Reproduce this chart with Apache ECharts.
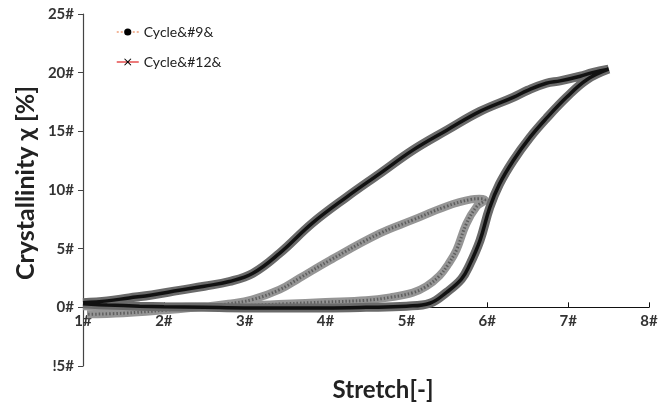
<!DOCTYPE html>
<html>
<head>
<meta charset="utf-8">
<script src="https://cdn.jsdelivr.net/npm/echarts@6/dist/echarts.min.js"></script>
<style>html,body{margin:0;padding:0;background:#fff}#c{width:661px;height:402px}</style>
</head>
<body>
<div id="c"></div>
<script>
// Cycle 9: loading then unloading [stretch, crystallinity %]
const cycle9 = [
  [1.0,0.1],[1.5,0.05],[2.0,0.05],[2.5,0.1],[3.0,0.15],[3.5,0.3],[4.0,0.45],[4.5,0.6],[4.8,0.85],
  [5.08,1.25],[5.25,1.8],[5.41,2.7],[5.52,3.7],[5.62,4.9],[5.74,7.1],[5.87,8.6],[5.97,9.15],
  [5.9,9.25],[5.8,9.2],[5.49,8.6],[5.08,7.45],[4.67,6.3],[4.05,4.0],[3.68,2.5],[3.43,1.5],
  [3.09,0.65],[2.8,0.3],[2.5,0.05],[2.0,-0.25],[1.5,-0.5],[1.05,-0.6]
];
// Cycle 12: loading then unloading
const cycle12 = [
  [1.0,0.3],[1.3,0.2],[1.7,0.1],[2.0,0.05],[2.5,0.0],[3.0,-0.05],[3.5,-0.05],[4.0,-0.05],[4.5,0.0],
  [5.0,0.1],[5.29,0.35],[5.5,1.3],[5.68,2.4],[5.78,3.6],[5.91,5.7],[6.03,8.5],[6.15,10.5],
  [6.32,12.5],[6.53,14.5],[6.73,16.1],[6.98,17.9],[7.23,19.4],[7.5,20.3],
  [7.3,20.0],[7.15,19.7],[6.9,19.3],[6.73,19.1],[6.5,18.5],[6.32,17.9],[5.91,16.7],[5.5,15.1],
  [5.08,13.4],[4.67,11.4],[4.26,9.4],[3.84,7.2],[3.43,4.6],[3.1,2.9],[2.81,2.2],[2.5,1.8],
  [2.19,1.45],[1.85,1.05],[1.57,0.8],[1.3,0.55],[1.0,0.4]
];
const xTickLabels = {1:'1#',2:'2#',3:'3#',4:'4#',5:'5#',6:'6#',7:'7#',8:'8#'};
const yTickLabels = {'-5':'!5#','0':'0#','5':'5#','10':'10#','15':'15#','20':'20#','25':'25#'};
const seriesNames = ['Cycle&#9&','Cycle&#12&'];
const xTitle = 'Stretch[-]';
const yTitle = 'Crystallinity χ [%]';

const FONT = 'Lato';
const xMark = 'path://M0,1 L1,0 L5,4 L9,0 L10,1 L6,5 L10,9 L9,10 L5,6 L1,10 L0,9 L4,5 Z';

const chart = echarts.init(document.getElementById('c'), null, {renderer:'canvas'});
chart.setOption({
  animation:false,
  backgroundColor:'#fff',
  grid:{left:83, right:12, top:14, bottom:36},
  legend:{
    orient:'vertical', left:111, top:20, itemWidth:22, itemHeight:9, itemGap:16,
    textStyle:{fontFamily:FONT, fontSize:14, color:'#222'},
    data:[
      {name:seriesNames[0], itemStyle:{color:'#000', borderWidth:0}, lineStyle:{color:'#f0a07a', width:1.5, type:[2,2]}},
      {name:seriesNames[1], itemStyle:{color:'#000', borderWidth:0}, lineStyle:{color:'#e02020', width:1.2, type:'solid'}}
    ]
  },
  graphic:[
    {type:'text', x:383, y:390, style:{text:xTitle, align:'center', verticalAlign:'middle', font:'bold 24px Lato', fill:'#222'}},
    {type:'text', x:26, y:183, rotation:Math.PI/2, style:{text:yTitle, align:'center', verticalAlign:'middle', font:'bold 25px Lato', fill:'#222'}}
  ],
  xAxis:{
    type:'value', min:1, max:8, interval:1, position:'bottom',
    axisLine:{onZero:false, lineStyle:{color:'#111', width:1.2}},
    axisTick:{inside:true, length:5, lineStyle:{color:'#111'}},
    splitLine:{show:false},
    axisLabel:{formatter:v=>xTickLabels[v]||'', fontFamily:FONT, fontWeight:'bold', fontSize:15, color:'#333', margin:6}
  },
  yAxis:{
    type:'value', min:-5, max:25, interval:5,
    axisLine:{show:true, onZero:false, lineStyle:{color:'#444', width:1.2}},
    axisTick:{show:true, length:5, lineStyle:{color:'#444'}},
    splitLine:{show:false},
    axisLabel:{formatter:v=>yTickLabels[String(v)]||'', fontFamily:FONT, fontWeight:'bold', fontSize:15, color:'#333', margin:9}
  },
  series:[
    {name:seriesNames[0], type:'line', data:cycle9, smooth:0.4, symbol:'circle', showSymbol:false,
     itemStyle:{color:'#000'}, lineStyle:{color:'#959595', width:8}, z:2},
    {name:'c9core', type:'line', data:cycle9, smooth:0.4, symbol:'none',
     lineStyle:{color:'#5e5e5e', width:3, type:[1.5,2]}, z:3},
    {name:seriesNames[1], type:'line', data:cycle12, smooth:0.4, symbol:xMark, showSymbol:false,
     itemStyle:{color:'#000'}, lineStyle:{color:'#6a6a6a', width:9}, z:4},
    {name:'c12core', type:'line', data:cycle12, smooth:0.4, symbol:'none',
     lineStyle:{color:'#111', width:3.5}, z:5}
  ]
});
// place the x axis line on y = 0 using the library's own y scale
const yZero = chart.convertToPixel({yAxisIndex:0}, 0);
const yBottom = chart.convertToPixel({yAxisIndex:0}, -5);
chart.setOption({xAxis:{offset: yZero - yBottom}});
</script>
</body>
</html>
